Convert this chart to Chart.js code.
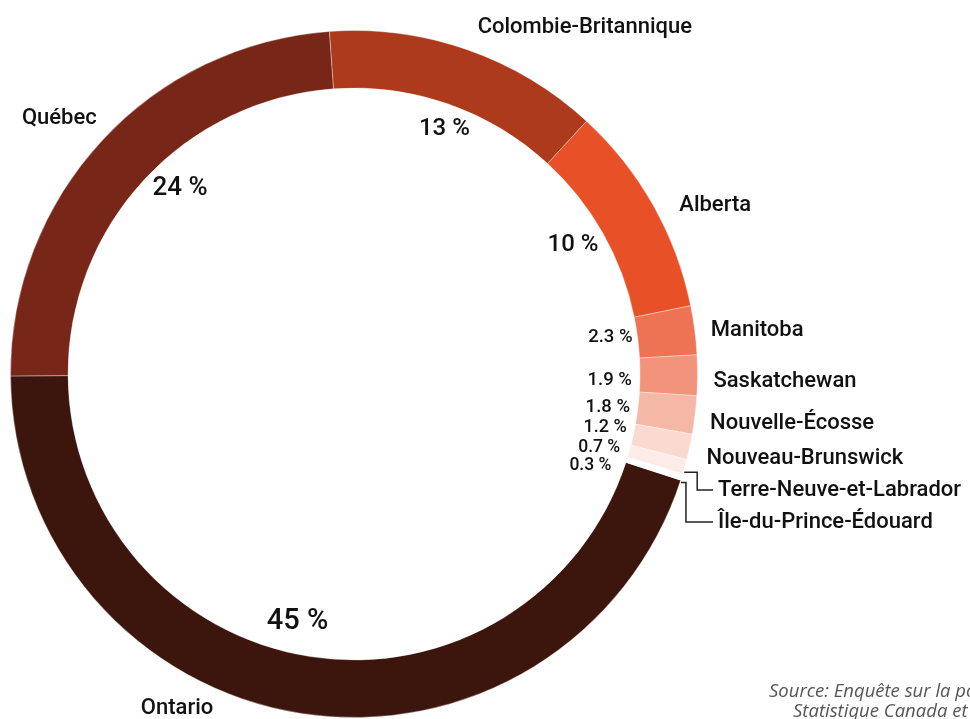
<!DOCTYPE html>
<html>
<head>
<meta charset="utf-8">
<script src="https://cdn.jsdelivr.net/npm/chart.js@4"></script>
<style>
  html, body { margin: 0; padding: 0; background: #ffffff; }
  #wrap { position: relative; width: 970px; height: 719px; overflow: hidden; }
  canvas { display: block; }
</style>
</head>
<body>
<div id="wrap"><canvas id="c" width="970" height="719"></canvas></div>
<script>
// ---- data ----
const provinces = ['Ontario', 'Québec', 'Colombie-Britannique', 'Alberta', 'Manitoba', 'Saskatchewan',
  'Nouvelle-Écosse', 'Nouveau-Brunswick', 'Terre-Neuve-et-Labrador', 'Île-du-Prince-Édouard'];
const shares = [45, 24, 13, 10, 2.3, 1.9, 1.8, 1.2, 0.7, 0.3];
const sliceColors = ['#3c160c', '#772617', '#ae3a1e', '#e85127', '#ee7355', '#f2937b',
  '#f6b8a6', '#fad9d0', '#fdebe7', '#ffffff'];
const sourceLines = ['Source: Enquête sur la population active,', 'Statistique Canada et calculs'];

// ---- label layout (styling only) ----
const FONT = 'Roboto, "Open Sans", sans-serif';
const pctMode   = ['mid', 'mid', 'mid', 'mid', 'stack', 'stack', 'stack', 'stack', 'stack', 'stack'];
const pctSize   = [29, 26, 24, 24, 18.5, 18.5, 18.5, 18, 17.5, 17.5];
const pctAngleNudge = [4, 4, 1, -1, 0, 0, 0, 0, 0, 0];
const pctRadiusNudge = [0, 0, 7, 0, 0, 0, 0, 0, 0, 0];
const stackYNudge   = [0, 0, 0, 0, 0, 5, -1, -7, -4, 6];
const stackXNudge   = [0, 0, 0, 0, 3, 0, 0, 0, -2, -5];
const nameAngleNudge = [14, 2, 0.4, 2, 0.3, 1, 1, 1.3, 0, 0];
const nameRadiusNudge = [0, 0, 5, 4, -3, -3, -3, 0, 0, 0];
const nameLeader = [null, null, null, null, null, null, null, null,
  {da: 0.9, dx: 13, y: 490}, {da: 0.9, dx: 5, y: 522}];

const pctText = v => String(v) + ' %';

const labelPlugin = {
  id: 'ringLabels',
  afterDatasetsDraw(chart) {
    const ctx = chart.ctx;
    const meta = chart.getDatasetMeta(0);
    const deg = Math.PI / 180;
    ctx.save();
    ctx.fillStyle = '#111111';
    ctx.textBaseline = 'middle';
    meta.data.forEach((arc, i) => {
      const p = arc.getProps(['x', 'y', 'startAngle', 'endAngle', 'innerRadius', 'outerRadius'], true);
      const mid = (p.startAngle + p.endAngle) / 2;
      // percentage
      ctx.font = '500 ' + pctSize[i] + 'px ' + FONT;
      if (pctMode[i] === 'mid') {
        const a = mid + pctAngleNudge[i] * deg;
        const r = p.innerRadius - 32 + pctRadiusNudge[i];
        ctx.textAlign = 'center';
        ctx.fillText(pctText(shares[i]), p.x + r * Math.cos(a), p.y + r * Math.sin(a));
      } else {
        const y = p.y + p.innerRadius * Math.sin(mid) + stackYNudge[i];
        const ra = p.innerRadius - 8;
        const dy = y - p.y;
        const x = p.x + Math.sqrt(Math.max(ra * ra - dy * dy, 0)) + stackXNudge[i];
        ctx.textAlign = 'right';
        ctx.fillText(pctText(shares[i]), x, y);
      }
      // province names
      ctx.font = '500 22px ' + FONT;
      const lead = nameLeader[i];
      if (lead) {
        const a = mid + lead.da * deg;
        const sx = p.x + (p.outerRadius + 1) * Math.cos(a);
        const sy = p.y + (p.outerRadius + 1) * Math.sin(a);
        const ex = sx + lead.dx;
        ctx.save();
        ctx.strokeStyle = '#222222';
        ctx.lineWidth = 1.5;
        ctx.beginPath();
        ctx.moveTo(sx, sy);
        ctx.lineTo(ex, sy);
        ctx.lineTo(ex, lead.y);
        ctx.lineTo(713, lead.y);
        ctx.stroke();
        ctx.restore();
        ctx.textAlign = 'left';
        ctx.fillText(provinces[i], 718, lead.y);
      } else {
        const a = mid + nameAngleNudge[i] * deg;
        const r = p.outerRadius + 19 + nameRadiusNudge[i];
        const x = p.x + r * Math.cos(a);
        const y = p.y + r * Math.sin(a);
        ctx.textAlign = Math.cos(a) >= 0 ? 'left' : 'right';
        ctx.fillText(provinces[i], x, y);
      }
    });
    // source
    ctx.font = 'italic 18.5px "Open Sans", sans-serif';
    ctx.fillStyle = '#555555';
    ctx.textAlign = 'left';
    ctx.textBaseline = 'alphabetic';
    ctx.fillText(sourceLines[0], 769, 697);
    ctx.fillText(sourceLines[1], 793, 717);
    ctx.restore();
  }
};

new Chart(document.getElementById('c'), {
  type: 'doughnut',
  data: {
    labels: provinces,
    datasets: [{
      data: shares,
      backgroundColor: sliceColors,
      borderColor: 'rgba(255,255,255,0.35)',
      borderWidth: 1
    }]
  },
  options: {
    responsive: false,
    animation: false,
    rotation: 108,
    cutout: 286,
    layout: { padding: { left: 10, top: 30, right: 272, bottom: 1 } },
    plugins: { legend: { display: false }, tooltip: { enabled: false } }
  },
  plugins: [labelPlugin]
});
</script>
</body>
</html>
